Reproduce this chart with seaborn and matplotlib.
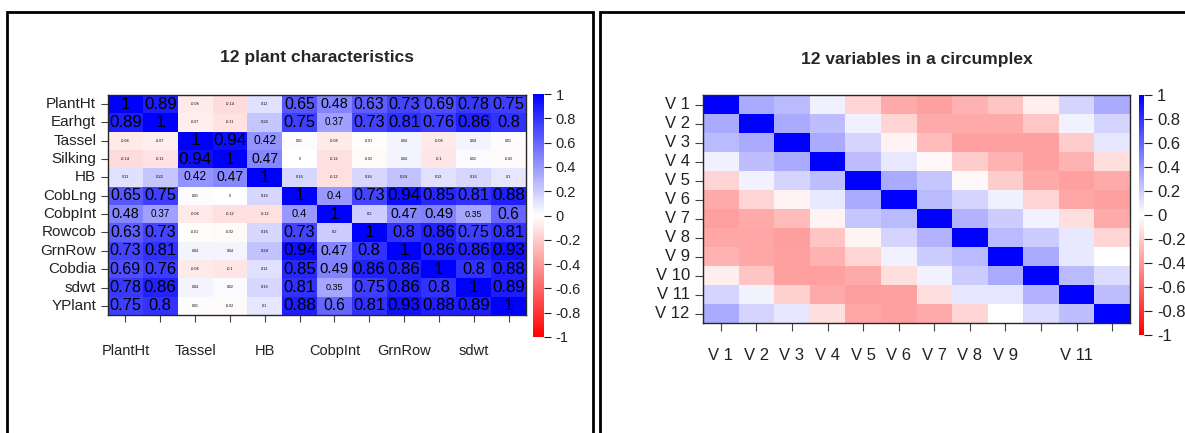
import numpy as np
import pandas as pd
import matplotlib
matplotlib.use("Agg")
import matplotlib.pyplot as plt
import seaborn as sns
from matplotlib.colors import LinearSegmentedColormap
from matplotlib.patches import Rectangle

sns.set_style("white")
plt.rcParams['font.family'] = ['Liberation Sans', 'DejaVu Sans']
plt.rcParams['axes.unicode_minus'] = False

# plant traits correlation matrix
traits = ['PlantHt', 'Earhgt', 'Tassel', 'Silking', 'HB', 'CobLng',
          'CobpInt', 'Rowcob', 'GrnRow', 'Cobdia', 'sdwt', 'YPlant']
r_plantht = [1, 0.89, -0.08, -0.14, 0.12, 0.65, 0.48, 0.63, 0.73, 0.69, 0.78, 0.75]
r_earhgt = [0.89, 1, -0.07, -0.11, 0.22, 0.75, 0.37, 0.73, 0.81, 0.76, 0.86, 0.8]
r_tassel = [-0.08, -0.07, 1, 0.94, 0.42, 0.01, -0.08, -0.01, 0.04, -0.08, 0.04, 0.01]
r_silking = [-0.14, -0.11, 0.94, 1, 0.47, 0, -0.12, -0.02, 0.04, -0.1, 0.02, -0.02]
r_hb = [0.12, 0.22, 0.42, 0.47, 1, 0.16, -0.12, 0.16, 0.24, 0.12, 0.16, 0.1]
r_coblng = [0.65, 0.75, 0.01, 0, 0.16, 1, 0.4, 0.73, 0.94, 0.85, 0.81, 0.88]
r_cobpint = [0.48, 0.37, -0.08, -0.12, -0.12, 0.4, 1, 0.2, 0.47, 0.49, 0.35, 0.6]
r_rowcob = [0.63, 0.73, -0.01, -0.02, 0.16, 0.73, 0.2, 1, 0.8, 0.86, 0.75, 0.81]
r_grnrow = [0.73, 0.81, 0.04, 0.04, 0.24, 0.94, 0.47, 0.8, 1, 0.86, 0.86, 0.93]
r_cobdia = [0.69, 0.76, -0.08, -0.1, 0.12, 0.85, 0.49, 0.86, 0.86, 1, 0.8, 0.88]
r_sdwt = [0.78, 0.86, 0.04, 0.02, 0.16, 0.81, 0.35, 0.75, 0.86, 0.8, 1, 0.89]
r_yplant = [0.75, 0.8, 0.01, -0.02, 0.1, 0.88, 0.6, 0.81, 0.93, 0.88, 0.89, 1]
trait_xlabels = ['PlantHt', '', 'Tassel', '', 'HB', '', 'CobpInt', '', 'GrnRow', '', 'sdwt', '']

# circumplex matrix
vars12 = ['V 1', 'V 2', 'V 3', 'V 4', 'V 5', 'V 6', 'V 7', 'V 8', 'V 9', 'V 10', 'V 11', 'V 12']
c1 = [1, 0.33, 0.27, 0.06, -0.17, -0.33, -0.37, -0.3, -0.23, -0.07, 0.17, 0.33]
c2 = [0.33, 1, 0.33, 0.25, 0.06, -0.17, -0.33, -0.33, -0.33, -0.22, 0.05, 0.17]
c3 = [0.27, 0.33, 1, 0.33, 0.17, -0.05, -0.27, -0.37, -0.37, -0.37, -0.2, 0.1]
c4 = [0.06, 0.25, 0.33, 1, 0.25, 0.09, -0.03, -0.2, -0.3, -0.37, -0.3, -0.13]
c5 = [-0.17, 0.05, 0.17, 0.25, 1, 0.33, 0.22, -0.03, -0.2, -0.33, -0.37, -0.33]
c6 = [-0.33, -0.17, -0.05, 0.09, 0.33, 1, 0.27, 0.17, 0.06, -0.17, -0.35, -0.37]
c7 = [-0.37, -0.33, -0.27, -0.05, 0.22, 0.27, 1, 0.3, 0.2, 0.05, -0.13, -0.33]
c8 = [-0.35, -0.35, -0.38, -0.23, -0.04, 0.17, 0.3, 1, 0.27, 0.2, 0.09, -0.17]
c9 = [-0.3, -0.35, -0.37, -0.3, -0.17, 0.05, 0.2, 0.27, 1, 0.33, 0.09, 0]
c10 = [-0.07, -0.23, -0.37, -0.37, -0.33, -0.13, 0.05, 0.2, 0.33, 1, 0.27, 0.14]
c11 = [0.17, 0.05, -0.18, -0.33, -0.38, -0.37, -0.13, 0.1, 0.1, 0.3, 1, 0.25]
c12 = [0.33, 0.17, 0.1, -0.13, -0.35, -0.37, -0.33, -0.17, 0, 0.14, 0.25, 1]
var_xlabels = ['V 1', 'V 2', 'V 3', 'V 4', 'V 5', 'V 6', 'V 7', 'V 8', 'V 9', '', 'V 11', '']

cbar_ticks = [1, 0.8, 0.6, 0.4, 0.2, 0, -0.2, -0.4, -0.6, -0.8, -1]

plant = pd.DataFrame([r_plantht, r_earhgt, r_tassel, r_silking, r_hb, r_coblng,
                      r_cobpint, r_rowcob, r_grnrow, r_cobdia, r_sdwt, r_yplant],
                     index=traits, columns=traits)
circ = pd.DataFrame([c1, c2, c3, c4, c5, c6, c7, c8, c9, c10, c11, c12],
                    index=vars12, columns=vars12)

cmap = LinearSegmentedColormap.from_list('rwb', ['#ff0000', '#ffffff', '#0000ff'])

fig = plt.figure(figsize=(11.85, 4.33), dpi=100)
W, H = 1185, 433

def px(x0, y0, x1, y1):
    return [x0 / W, 1 - y1 / H, (x1 - x0) / W, (y1 - y0) / H]

# panel frames
for x0, x1 in [(7, 593), (600, 1195)]:
    fig.patches.append(Rectangle((x0 / W, -0.05), (x1 - x0) / W, 1.05 - 12 / H,
                                 transform=fig.transFigure, fill=False,
                                 edgecolor='black', linewidth=2))

# left panel
ax1 = fig.add_axes(px(108, 95, 526, 315))
cax1 = fig.add_axes(px(533, 94, 544, 337))
sns.heatmap(plant, ax=ax1, cbar_ax=cax1, cmap=cmap, vmin=-1, vmax=1,
            annot=True, fmt='g', annot_kws={'color': 'black'})
for t in ax1.texts:
    v = abs(float(t.get_text()))
    t.set_fontsize(np.interp(v, [0, 0.25, 0.35, 0.5, 1], [2.5, 3, 6.5, 11, 12.5]))
ax1.set_xticks(np.arange(12) + 0.5)
ax1.set_xticklabels(trait_xlabels, rotation=0, fontsize=10.5, color='#222222')
ax1.set_yticklabels(traits, rotation=0, fontsize=11, color='#222222')
ax1.tick_params(axis='both', length=5, width=0.8, color='#444444', bottom=True, left=True)
ax1.tick_params(axis='x', pad=16)
ax1.set_xlabel('')
ax1.set_ylabel('')
for s in ax1.spines.values():
    s.set_visible(True)
    s.set_linewidth(1)
ax1.set_title('12 plant characteristics', fontsize=12.5, fontweight='bold', pad=24)
cax1.set_yticks(cbar_ticks)
cax1.set_yticklabels([f'{t:g}' for t in cbar_ticks])
cax1.tick_params(labelsize=10.5, length=5, colors='#222222')
ax1.collections[0].colorbar.outline.set_visible(False)

# right panel
ax2 = fig.add_axes(px(703, 95, 1130, 323))
cax2 = fig.add_axes(px(1139, 95, 1144, 335))
sns.heatmap(circ, ax=ax2, cbar_ax=cax2, cmap=cmap, vmin=-1, vmax=1)
ax2.set_xticks(np.arange(12) + 0.5)
ax2.set_xticklabels(var_xlabels, rotation=0, fontsize=12, color='#222222')
ax2.set_yticklabels(vars12, rotation=0, fontsize=12, color='#222222')
ax2.tick_params(axis='both', length=6, width=0.8, color='#444444', bottom=True, left=True)
ax2.tick_params(axis='x', pad=12)
ax2.set_xlabel('')
ax2.set_ylabel('')
for s in ax2.spines.values():
    s.set_visible(True)
    s.set_linewidth(1)
ax2.set_title('12 variables in a circumplex', fontsize=12.5, fontweight='bold', pad=22)
cax2.set_yticks(cbar_ticks)
cax2.set_yticklabels([f'{t:g}' for t in cbar_ticks])
cax2.tick_params(labelsize=12, length=6, colors='#222222')
ax2.collections[0].colorbar.outline.set_visible(False)

fig.savefig('out.png', dpi=100)
